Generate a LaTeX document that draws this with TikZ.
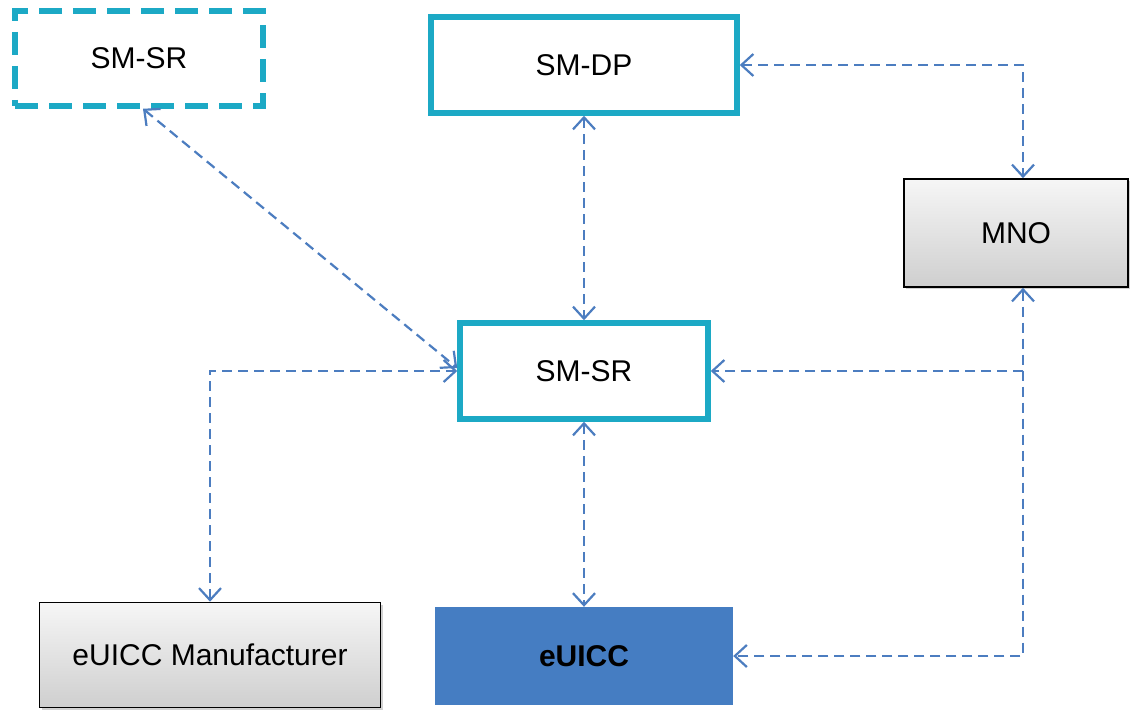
\documentclass[tikz,border=0pt]{standalone}
\usepackage{fontspec}
\setmainfont{Liberation Sans}
\usetikzlibrary{arrows.meta,shadows,calc}
\definecolor{teal1}{HTML}{1CA9C5}
\definecolor{linkblue}{HTML}{4C7DC0}
\definecolor{chipblue}{HTML}{457DC2}
\begin{document}
\begin{tikzpicture}[x=1pt,y=-1pt,
  font=\fontsize{30}{36}\selectfont,
  >={Straight Barb[length=12pt,width=22pt]},
  tealbox/.style={draw=teal1,line width=5.5pt,fill=white,minimum width=248pt,minimum height=96pt,inner sep=0pt},
  graybox/.style={draw=black,line width=1.6pt,top color=gray!7,bottom color=gray!38,
    drop shadow={shadow xshift=2pt,shadow yshift=-2pt,opacity=0.35,fill=gray},inner sep=0pt},
  chipbox/.style={fill=chipblue,inner sep=0pt,minimum width=298pt,minimum height=98pt},
  link/.style={draw=linkblue,line width=2.2pt,dash pattern=on 10pt off 6pt},
]
\useasboundingbox[fill=white] (0,0) rectangle (1132,714);

\node[tealbox,dash pattern=on 23pt off 11pt,minimum height=95pt] (smsrA) at (139,58.5) {SM-SR};
\node[tealbox,minimum width=306pt] (smdp) at (584,65) {SM-DP};
\node[tealbox] (smsr) at (584,371) {SM-SR};
\node[graybox,minimum width=224pt,minimum height=108pt] (mno) at (1016,233) {MNO};
\node[graybox,minimum width=341pt,minimum height=105pt] (manu) at (210,655) {eUICC Manufacturer};
\node[chipbox] (euicc) at (584,656) {\bfseries eUICC};

\coordinate (vx) at (1023,0);
\coordinate (jn) at (1023,371);
\coordinate (dA) at ($(smsrA.south)+(4,0)$);
\coordinate (dB) at ($(smsr.west)+(0,-3)$);

\draw[link,<->] (dA) -- (dB);
\draw[link,<->] (smdp.south) -- (smsr.north);
\draw[link,<->] (smsr.south) -- (euicc.north);
\draw[link,<->] (manu.north) |- (smsr.west);
\draw[link,<->] (smdp.east) -| (mno.north -| vx);
\draw[link,<->] (mno.south -| vx) |- (euicc.east);
\draw[link,->] (jn) -- (smsr.east);
\end{tikzpicture}
\end{document}
